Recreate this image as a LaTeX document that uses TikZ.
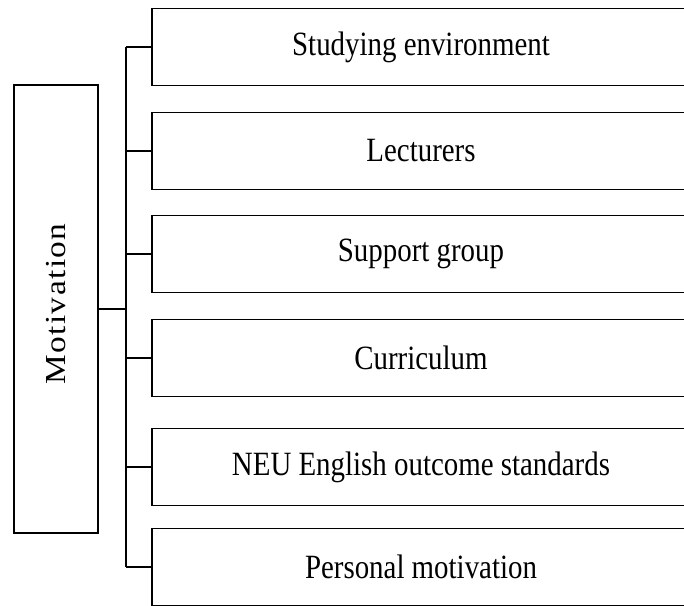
\documentclass[tikz,border=0pt]{standalone}
\usepackage{fontspec}
\setmainfont{Liberation Serif}[FakeStretch=0.85]
\newfontfamily\motfont{Liberation Serif}[FakeStretch=1.15,LetterSpace=5]

\begin{document}
\begin{tikzpicture}[x=1pt,y=-1pt,
    item/.style={draw, line width=1.2pt, minimum width=538pt, minimum height=77pt,
        inner sep=0pt, font=\fontsize{34}{40}\selectfont},
    link/.style={line width=1.2pt}]
    \useasboundingbox (0,0) rectangle (684,605);
    \clip (0,0) rectangle (684,605);
    \def\boxx{421}

    % Left block - Motivation
    \node[draw, line width=1.2pt, minimum width=84pt, minimum height=448pt, inner sep=0pt] (mot) at (56,309) {};
    \node[rotate=90, inner sep=0pt, font=\motfont\fontsize{29}{32}\selectfont] (motlabel) at (56,304) {Motivation};

    % Trunk line
    \coordinate (trunk) at (126,0);
    \draw[link] (mot.east) -- (mot.east -| trunk);

    % Factor boxes, each with a branch to the trunk
    \foreach \name/\y/\txt in {env/47/Studying environment, lect/151/Lecturers,
        supp/254/Support group, curr/358/Curriculum,
        neu/467/NEU English outcome standards, pers/567/Personal motivation} {
        \node[item] (\name) at (\boxx,\y) {\txt};
        \draw[link] (\name.west) -- (\name.west -| trunk);
    }
    \draw[link] (env.west -| trunk) -- (pers.west -| trunk);
\end{tikzpicture}
\end{document}
